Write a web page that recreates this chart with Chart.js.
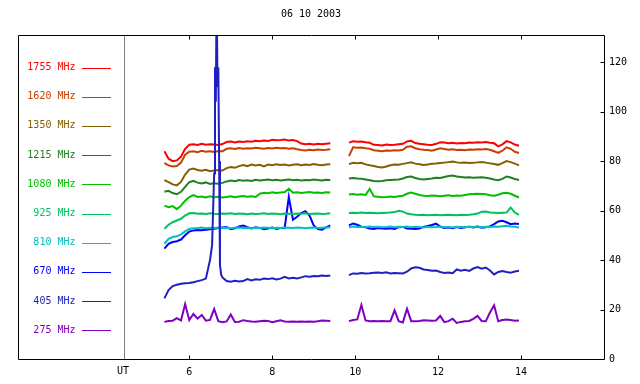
<!DOCTYPE html>
<html>
<head>
<meta charset="utf-8">
<script src="https://cdn.jsdelivr.net/npm/chart.js@4.4.1/dist/chart.umd.min.js"></script>
<style>
html,body{margin:0;padding:0;background:#fff;}
canvas{display:block;}
</style>
</head>
<body>
<canvas id="c" width="640" height="384"></canvas>
<script>
const titleText = "06 10 2003";
const utLabel = "UT";
const utHour = 4.43;
const xTicks = [6, 8, 10, 12, 14];
const yTicks = [0, 20, 40, 60, 80, 100, 120];

const hours = [5.4,5.5,5.6,5.7,5.8,5.9,6.0,6.1,6.2,6.3,6.4,6.5,6.6,6.7,6.8,6.9,7.0,7.1,7.2,7.3,7.4,7.5,7.6,7.7,7.8,7.9,8.0,8.1,8.2,8.3,8.4,8.5,8.6,8.7,8.8,8.9,9.0,9.1,9.2,9.3,9.4,
  9.6,
  9.85,9.95,10.05,10.15,10.25,10.35,10.45,10.55,10.65,10.75,10.85,10.95,11.05,11.15,11.25,11.35,11.45,11.55,11.65,11.75,11.85,11.95,12.05,12.15,12.25,12.35,12.45,12.55,12.65,12.75,12.85,12.95,13.05,13.15,13.25,13.35,13.45,13.55,13.65,13.75,13.85,13.95];

const labels = ["1755 MHz","1620 MHz","1350 MHz","1215 MHz","1080 MHz","925 MHz","810 MHz","670 MHz","405 MHz","275 MHz"];
const colors = ["#ff0000","#c84000","#806000","#208020","#00c000","#00c060","#00c0c0","#0000ff","#2020c0","#8000c0"];

const mhz1755 = [84,81,80,80.3,81.8,85,86.6,86.8,86.5,87,86.6,86.8,86.7,86.5,86.9,87.7,87.9,87.5,87.9,87.7,88,87.8,88.2,88,88.3,88.1,88.6,88.4,88.5,88.7,88.3,88.5,88.1,87.1,86.8,87,86.7,87,86.8,87,87.2,
  null,
  87.5,88,87.8,87.9,87.6,87.4,86.6,86.5,86.3,86.7,86.5,86.6,86.8,87,88,88.2,87.3,87,86.8,86.6,86.5,87,87.6,87.5,87.2,87.4,87.1,87.3,87.2,87.5,87.4,87.6,87.5,87.7,87.4,87.2,86,86.8,88.1,87.6,86.7,86.2];
const mhz1620 = [79.2,78.3,77.8,78,79.4,82.6,83.8,84,83.6,84.2,83.8,84,83.7,84.1,84,85,85.2,84.9,85.3,85,85.2,85.1,85.4,85.2,85,85.3,85.1,85.4,85.2,85.3,85,85.2,84.8,84.5,84.3,84.6,84.4,84.7,84.5,84.6,84.8,
  null,
  82,85.6,85.4,85.5,85.2,85,84.4,84.2,84,84.3,84.2,84.4,84.3,84.6,85.8,86,85.2,84.8,84.6,84.5,84.2,84.7,85.2,84.9,84.6,84.8,84.5,84.6,84.4,84.7,84.6,84.8,84.7,84.9,84.6,84,83.3,84.2,85.6,85,83.8,83.3];
const mhz1350 = [72.3,71.5,70.6,70.2,71.6,74.6,76.6,77,76.4,76.1,76.5,75.9,76.2,76.4,76.2,77.2,77.6,77.3,78,78.4,78,78.6,78.2,78.5,77.9,78.6,78.3,78.7,78.4,78.6,78.2,78.5,78.7,78.3,78.6,78.4,78.8,78.5,78.3,78.6,78.7,
  null,
  78.8,79.3,79.1,79.3,78.7,78.3,78,77.6,77.4,77.8,78.3,78.6,78.5,78.9,79.2,79.5,79,78.7,78.4,78.6,78.9,79,79.2,79.4,79.6,79.8,79.5,79.3,79.4,79.2,79.3,79.5,79.6,79.4,79.1,78.8,78.5,79.2,80,79.6,79,78.3];
const mhz1215 = [67.6,68,67.1,66.6,67.6,69.6,71.5,72,71.3,71,71.4,70.8,71.1,70.9,71.2,71.8,72.2,71.9,72.4,72.1,72.3,72,72.5,72.2,72.4,72.6,72.3,72.5,72.2,72.4,72.6,72.3,72.5,72.2,72.4,72.3,72.6,72.4,72.2,72.5,72.4,
  null,
  73,73.2,73,72.9,72.6,72.3,72,71.9,72,72.3,72.4,72.5,72.6,73,73.6,73.8,73.2,72.8,72.6,72.8,73,73.3,73.2,73.6,74,74.2,73.8,73.6,73.4,73.5,73.3,73.4,73.5,73.3,73,72.6,72.3,72.8,73.8,73.4,72.8,72.4];
const mhz1080 = [62,61.4,61.8,60.6,62,64,65.5,66.3,65.5,65.7,65.3,65.8,65.4,65.6,65.3,65.5,65.8,65.4,65.7,65.9,65.6,65.8,65.5,66.8,67.2,67,67.4,67.1,67.3,67.5,68.8,67.2,67.4,67.1,67.3,67.5,67.2,67.3,67.1,67.4,67.3,
  null,
  66.5,66.7,66.4,66.6,66.3,68.8,65.8,65.6,65.4,65.5,65.7,65.5,65.8,66,66.8,67.3,66.8,66.3,66,65.9,66.1,66,65.8,66,66.2,65.9,66.1,66,66.3,66.6,66.7,66.8,66.7,66.6,66.2,66,66.4,67,67.2,66.8,66,65.3];
const mhz925 = [52.6,54.3,55.3,56,56.7,58,58.9,59,58.7,58.8,58.6,58.9,58.7,58.6,58.8,58.7,58.9,58.6,58.8,58.7,58.5,58.8,58.6,58.7,58.9,58.6,58.8,58.7,58.5,58.8,58.7,58.6,58.8,58.7,58.9,58.6,58.7,58.8,58.6,58.7,58.9,
  null,
  59,59.1,59,59.2,59,59.1,59,58.9,59,59.1,59.2,59.4,59.9,59.6,58.8,58.5,58.3,58.2,58.3,58.1,58.2,58.3,58.1,58.2,58.3,58.2,58.1,58.3,58.2,58.3,58.5,58.8,59.5,59.6,59.2,59.1,59,59.1,59.2,61.2,59.2,58.3];
const mhz810 = [46.6,48.6,49.3,49.6,50.4,51.6,52.6,52.9,53,53.2,52.9,53.1,53,53.2,53,53.1,52.9,53.1,53.2,53,53.1,52.9,53.1,53,53.2,53.1,52.9,53.1,53,53.2,53.1,53,53.2,53.1,52.9,53.1,53.2,53,53.1,53.2,53.3,
  null,
  53.3,53.6,53.4,53.5,53.3,53.6,53.4,53.5,53.3,53.4,53.6,53.3,53.5,53.4,53.6,53.3,53.5,53.4,53.2,53.5,53.3,53.4,53.6,53.3,53.4,53.2,53.5,53.4,53.3,53.5,53.4,53.6,53.3,53.5,53.4,53.6,53.5,53.7,53.9,53.6,53.5,53.2];
const mhz670 = [44.6,46.6,47.3,47.6,48.3,50,51.5,52,52.2,52.1,52.3,52.5,52.7,53,53.2,53.4,52.5,52.8,53.6,54,53.3,52.8,53.3,53,52.5,52.8,53.2,52.6,53,53,65.5,56.3,57.5,59,59.8,58,54,52.5,52.3,53.2,54,
  null,
  54,54.8,54.3,53.5,53.3,52.8,52.6,53,52.8,52.7,52.9,52.6,53.3,53.4,52.8,52.7,52.6,52.8,53.4,53.8,54.2,54.7,53.5,53,53.2,52.9,53.4,53,53.3,53.5,53.2,53.6,53.1,53.3,53.6,54.5,55.6,55.9,55.3,54.5,54.8,54.6];
const mhz405 = [24.5,27.9,29.5,30,30.4,30.6,30.7,31,31.5,31.9,32.5,40,75,118,33,31.5,31.2,31.6,31.3,31.5,32.3,31.8,32.2,32,32.5,32.3,32.6,32.2,32.5,33.2,32.6,32.8,32.6,33,33.5,33.3,33.6,33.5,33.8,33.6,33.8,
  null,
  33.9,34.6,34.5,34.8,34.6,34.7,34.9,35,34.8,35.1,34.6,34.8,34.7,34.6,35.3,36.6,37.1,36.9,36.2,36,35.7,35.8,35.2,34.8,35,34.7,36.2,35.7,36.1,35.6,36.6,37.2,36.5,37,35.8,34.2,35.2,35.6,35.2,34.9,35.4,35.7];
// extra samples inside the 405 MHz burst
const burstHours = [6.55, 6.62, 6.64, 6.66, 6.68, 6.72, 6.74, 6.77];
const burst405 = [46, 118, 104, 150, 110, 80, 38, 34];
const mhz275 = [15,15.4,15.5,16.5,15.6,22.2,15.7,18.2,16.3,17.8,15.5,15.8,20.2,15.3,14.9,15.2,18,15,15.1,15.7,15.4,15.2,15.1,15.3,15.5,15.4,14.9,15.3,15.7,15.2,15.1,15.2,15.1,15.2,15.1,15.2,15.1,15.3,15.6,15.5,15.4,
  null,
  15.3,15.8,16,21.8,15.6,15.3,15.4,15.3,15.4,15.3,15.3,19.7,15.3,14.8,20.3,15.3,15.3,15.4,15.7,15.6,15.5,15.6,17.4,14.9,15.3,16.3,14.6,15,15.3,15.4,16.2,17.4,15.4,15.3,18.8,21.7,15.3,15.8,16,15.8,15.5,15.6];

const seriesValues = [mhz1755, mhz1620, mhz1350, mhz1215, mhz1080, mhz925, mhz810, mhz670, mhz405, mhz275];

function buildPoints(vals, exH, exV) {
  const pts = hours.map((h, i) => ({x: h, y: vals[i]}));
  if (exH) exH.forEach((h, i) => pts.push({x: h, y: exV[i]}));
  pts.sort((a, b) => a.x - b.x);
  return pts;
}

const datasets = seriesValues.map((vals, i) => ({
  label: labels[i],
  data: i === 8 ? buildPoints(vals, burstHours, burst405) : buildPoints(vals),
  borderColor: colors[i],
  backgroundColor: colors[i],
  borderWidth: 2,
  pointRadius: 0,
  tension: 0,
  spanGaps: false,
  order: i === 8 ? -1 : i
}));

const FONT = '10px "DejaVu Sans Mono"';

const framePlugin = {
  id: 'frame',
  afterDraw(chart) {
    const {ctx, chartArea: a, scales} = chart;
    const xs = scales.x, ys = scales.y;
    ctx.save();
    ctx.font = FONT;
    ctx.fillStyle = '#000';
    ctx.textAlign = 'center';
    ctx.textBaseline = 'middle';
    ctx.fillText(titleText, (a.left + a.right) / 2, 14);

    const ux = Math.round(xs.getPixelForValue(utHour)) + 0.5;
    ctx.strokeStyle = '#808080';
    ctx.lineWidth = 1;
    ctx.beginPath();
    ctx.moveTo(ux, a.top);
    ctx.lineTo(ux, a.bottom);
    ctx.stroke();
    ctx.fillStyle = '#000';
    ctx.fillText(utLabel, ux - 1.5, a.bottom + 12);

    ctx.strokeStyle = '#000';
    const L = Math.round(a.left) + 0.5, R = Math.round(a.right) + 0.5;
    const T = Math.round(a.top) + 0.5, B = Math.round(a.bottom) + 0.5;
    ctx.beginPath();
    ctx.moveTo(L, T); ctx.lineTo(R, T); ctx.lineTo(R, B); ctx.lineTo(L, B); ctx.closePath();
    ctx.stroke();

    ctx.beginPath();
    xTicks.forEach(v => {
      const px = Math.round(xs.getPixelForValue(v)) + 0.5;
      ctx.moveTo(px, B); ctx.lineTo(px, B - 4);
      ctx.moveTo(px, T); ctx.lineTo(px, T + 4);
    });
    yTicks.forEach(v => {
      if (v === 0) return;
      const py = Math.round(ys.getPixelForValue(v)) + 0.5;
      ctx.moveTo(R, py); ctx.lineTo(R - 4, py);
    });
    ctx.stroke();

    labels.forEach((lab, i) => {
      const y = a.top + 32.5 + 29.2 * i;
      ctx.fillStyle = colors[i];
      ctx.textAlign = 'right';
      ctx.fillText(lab, a.left + 57.5, y);
      ctx.strokeStyle = colors[i];
      ctx.beginPath();
      const yy = Math.round(y) + 0.5;
      ctx.moveTo(a.left + 64, yy);
      ctx.lineTo(a.left + 93, yy);
      ctx.stroke();
    });
    ctx.restore();
  }
};

new Chart(document.getElementById('c'), {
  type: 'line',
  data: {datasets},
  options: {
    responsive: false,
    animation: false,
    devicePixelRatio: 1,
    layout: {padding: {left: 18, top: 35, right: 0, bottom: 0}},
    plugins: {legend: {display: false}, tooltip: {enabled: false}, title: {display: false}},
    scales: {
      x: {
        type: 'linear',
        position: 'bottom',
        min: 1.87,
        max: 16,
        grid: {display: false, drawTicks: false},
        border: {display: false},
        afterBuildTicks: s => { s.ticks = xTicks.map(v => ({value: v})); },
        afterFit: s => { s.height = 25; },
        ticks: {
          autoSkip: false,
          maxRotation: 0,
          padding: 7,
          color: '#000',
          font: {family: 'DejaVu Sans Mono', size: 10},
          callback: v => String(v)
        }
      },
      y: {
        type: 'linear',
        position: 'right',
        min: 0,
        max: 131,
        grid: {display: false, drawTicks: false},
        border: {display: false},
        afterBuildTicks: s => { s.ticks = yTicks.map(v => ({value: v})); },
        afterFit: s => { s.width = 36; },
        ticks: {
          padding: 5,
          color: '#000',
          font: {family: 'DejaVu Sans Mono', size: 10},
          callback: v => String(v)
        }
      }
    }
  },
  plugins: [framePlugin]
});
</script>
</body>
</html>
